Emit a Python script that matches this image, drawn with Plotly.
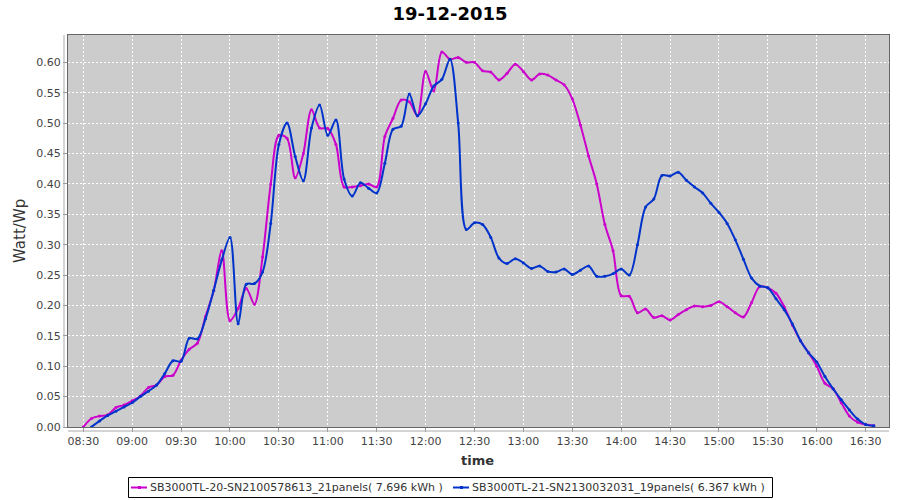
import pandas as pd
import plotly.graph_objects as go

day = "2015-12-19"

# SB3000TL-20 (magenta), samples every 5 minutes from 08:30
times_20 = pd.date_range(f"{day} 08:30", f"{day} 16:35", freq="5min")
watt_20 = [
    0.000, 0.014, 0.018, 0.020, 0.032, 0.036, 0.043, 0.051, 0.065, 0.069,
    0.083, 0.085, 0.110, 0.128, 0.138, 0.182, 0.224, 0.290, 0.175, 0.195,
    0.228, 0.202, 0.280, 0.400, 0.480, 0.475, 0.410, 0.450, 0.522, 0.492,
    0.491, 0.465, 0.395, 0.395, 0.397, 0.400, 0.395, 0.478, 0.508, 0.538,
    0.535, 0.512, 0.585, 0.553, 0.617, 0.605, 0.608, 0.600, 0.600, 0.586,
    0.584, 0.571, 0.582, 0.597, 0.585, 0.571, 0.581, 0.579, 0.571, 0.563,
    0.540, 0.497, 0.446, 0.400, 0.333, 0.290, 0.216, 0.215, 0.188, 0.194,
    0.180, 0.183, 0.176, 0.185, 0.193, 0.199, 0.198, 0.200, 0.206, 0.198,
    0.188, 0.181, 0.205, 0.231, 0.229, 0.220, 0.198, 0.168, 0.142, 0.122,
    0.100, 0.072, 0.063, 0.040, 0.018, 0.008, 0.004, 0.002,
]

# SB3000TL-21 (blue), samples every 5 minutes from 08:35
times_21 = pd.date_range(f"{day} 08:35", f"{day} 16:35", freq="5min")
watt_21 = [
    0.000, 0.010, 0.019, 0.026, 0.033, 0.040, 0.050, 0.059, 0.069, 0.088,
    0.109, 0.108, 0.146, 0.145, 0.178, 0.225, 0.275, 0.312, 0.170, 0.235,
    0.236, 0.255, 0.335, 0.465, 0.500, 0.445, 0.405, 0.492, 0.530, 0.480,
    0.505, 0.408, 0.380, 0.402, 0.393, 0.385, 0.434, 0.490, 0.495, 0.548,
    0.512, 0.532, 0.561, 0.572, 0.605, 0.500, 0.325, 0.336, 0.333, 0.312,
    0.278, 0.269, 0.277, 0.270, 0.261, 0.265, 0.256, 0.255, 0.260, 0.251,
    0.258, 0.265, 0.248, 0.248, 0.252, 0.260, 0.250, 0.300, 0.362, 0.375,
    0.414, 0.413, 0.419, 0.406, 0.395, 0.385, 0.368, 0.353, 0.335, 0.308,
    0.276, 0.245, 0.232, 0.229, 0.211, 0.193, 0.170, 0.142, 0.122, 0.107,
    0.083, 0.063, 0.045, 0.028, 0.013, 0.004, 0.002,
]

names = [
    "SB3000TL-20-SN2100578613_21panels( 7.696 kWh )",
    "SB3000TL-21-SN2130032031_19panels( 6.367 kWh )",
]
colors = ["#cc00cc", "#0033cc"]

font = "DejaVu Sans"

# plot area in page pixels: left 68, right 889, top 35, bottom 427
def px_x(p):
    return (p - 68) / 821


def px_y(p):
    return (427 - p) / 392


fig = go.Figure()
for t, v, n, c in [(times_20, watt_20, names[0], colors[0]),
                   (times_21, watt_21, names[1], colors[1])]:
    fig.add_trace(go.Scatter(
        x=t, y=v, name=n, mode="lines+markers",
        line=dict(color=c, width=2, shape="spline", smoothing=0.9),
        marker=dict(color=c, size=3),
    ))

fig.update_layout(
    width=900, height=500,
    margin=dict(l=68, r=11, t=35, b=73, autoexpand=False),
    paper_bgcolor="white",
    plot_bgcolor="#cccccc",
    font=dict(family=font, size=11, color="#444444"),
    title=dict(text="<b>19-12-2015</b>", x=0.5, xref="container",
               y=1 - 14 / 500, yref="container", yanchor="middle",
               font=dict(family=font, size=18, color="black")),
    showlegend=False,
)

fig.update_xaxes(
    type="date", automargin=False,
    range=[f"{day} 08:20:37", f"{day} 16:44:18"],
    tick0=f"{day} 08:30", dtick=30 * 60 * 1000, tickformat="%H:%M",
    showgrid=True, gridcolor="white", gridwidth=1, griddash="2px,2px",
    showline=True, mirror=True, linecolor="#666666", linewidth=1,
    ticks="outside", ticklen=4, tickcolor="#999999",
    zeroline=False,
)
fig.update_yaxes(
    range=[0, 0.645], dtick=0.05, tickformat=".2f", automargin=False,
    showgrid=True, gridcolor="white", gridwidth=1, griddash="2px,2px",
    showline=True, mirror=True, linecolor="#666666", linewidth=1,
    ticks="outside", ticklen=4, tickcolor="#999999",
    zeroline=False,
)

# offset axis lines, like the original chart
fig.add_shape(type="line", xref="paper", yref="paper",
              x0=px_x(64), x1=px_x(64), y0=0, y1=1,
              line=dict(color="#aaaaaa", width=1))
fig.add_shape(type="line", xref="paper", yref="paper",
              x0=0, x1=1, y0=px_y(431), y1=px_y(431),
              line=dict(color="#aaaaaa", width=1))

fig.add_annotation(text="Watt/Wp", xref="paper", yref="paper",
                   x=px_x(20), y=0.5, textangle=-90, showarrow=False,
                   xanchor="center", yanchor="middle",
                   font=dict(family=font, size=15, color="#333333"))
fig.add_annotation(text="<b>time</b>", xref="paper", yref="paper",
                   x=px_x(477), y=px_y(460), showarrow=False,
                   xanchor="center", yanchor="middle",
                   font=dict(family=font, size=13, color="#333333"))

# legend box drawn by hand to match the original's compact layout
fig.add_shape(type="rect", xref="paper", yref="paper",
              x0=px_x(128.5), x1=px_x(772.5), y0=px_y(477.5), y1=px_y(497.5),
              line=dict(color="black", width=1), fillcolor="white")
legend_left = [131, 453]
for left, n, c in zip(legend_left, names, colors):
    fig.add_shape(type="line", xref="paper", yref="paper",
                  x0=px_x(left), x1=px_x(left + 16),
                  y0=px_y(487.5), y1=px_y(487.5),
                  line=dict(color=c, width=2))
    fig.add_shape(type="rect", xref="paper", yref="paper",
                  x0=px_x(left + 7), x1=px_x(left + 10),
                  y0=px_y(486), y1=px_y(489),
                  line=dict(color=c, width=0), fillcolor=c)
    fig.add_annotation(text=n, xref="paper", yref="paper",
                       x=px_x(left + 17), y=px_y(487.5), showarrow=False,
                       xanchor="left", yanchor="middle",
                       font=dict(family=font, size=11, color="#333333"))

# drop the page's default body margin so the chart sits at the window origin
fig.write_html("out.html", config={"displayModeBar": False},
               post_script="document.body.style.margin = '0px';")
